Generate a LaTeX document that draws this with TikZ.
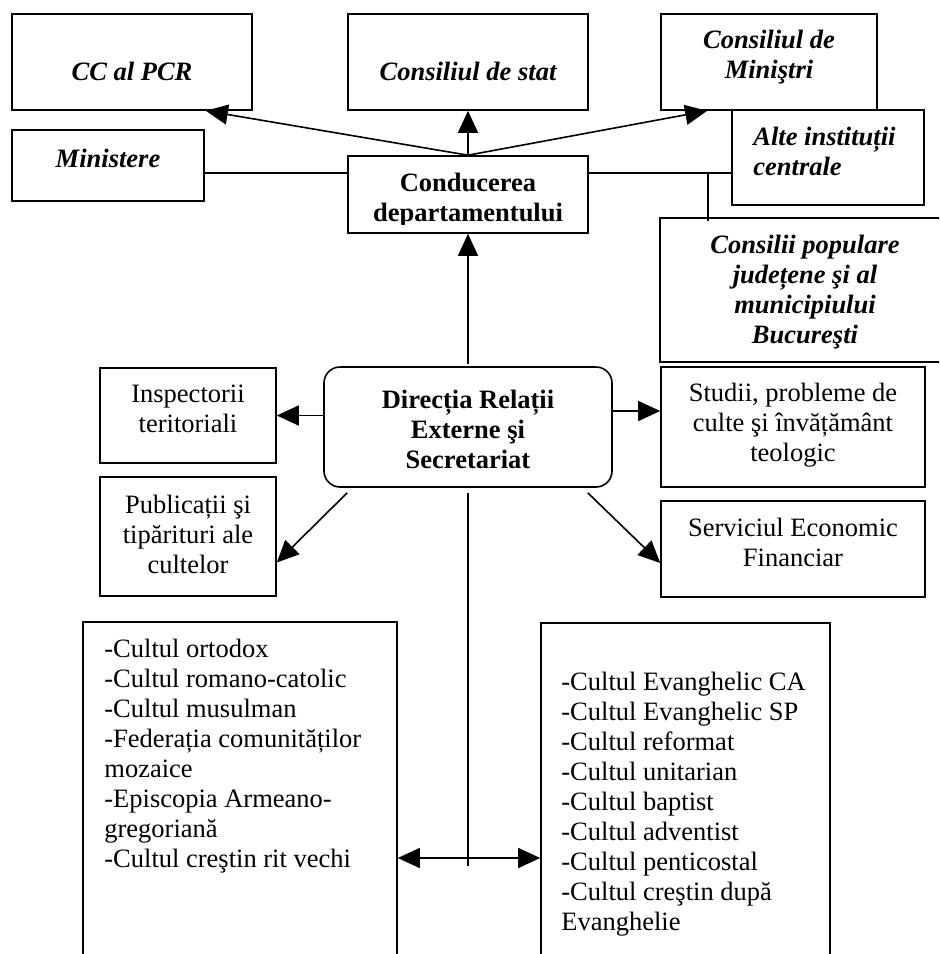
\documentclass[tikz,border=0pt]{standalone}
\usepackage{fontspec}
\setmainfont{Liberation Serif}
\usetikzlibrary{positioning,calc,arrows.meta}

\tikzset{
  box/.style={draw, rectangle, line width=0.8pt, inner sep=0pt},
  rbox/.style={box, rounded corners=8pt},
  txt/.style={anchor=base, align=center, inner sep=0pt, font=\fontsize{13.25}{15}\selectfont},
  htxt/.style={txt, font=\fontsize{13.25}{15}\selectfont\bfseries\itshape},
  btxt/.style={txt, font=\fontsize{13.25}{15}\selectfont\bfseries},
  link/.style={line width=0.8pt},
  arr/.style={link, -{Triangle[length=11pt,width=10pt]}},
  dbl/.style={link, {Triangle[length=11pt,width=10pt]}-{Triangle[length=11pt,width=10pt]}}
}

\begin{document}
\begin{tikzpicture}[x=0.5pt, y=-0.5pt]
  \useasboundingbox (0,0) rectangle (939,954);
  \clip (0,0) rectangle (939,954);

  % upper level
  \node[box, minimum width=120pt, minimum height=48pt] (cc) at (132,62) {};
  \node[box, minimum width=120pt, minimum height=48pt] (stat) at (468,62) {};
  \node[box, minimum width=108pt, minimum height=48pt] (cm) at (769,62) {};
  \node[box, minimum width=96pt, minimum height=35.5pt] (min) at (108,165.5) {};
  \node[box, minimum width=120pt, minimum height=38.5pt] (cond) at (468,194.5) {};
  \node[box, minimum width=96pt, minimum height=47.5pt] (alte) at (828,157.5) {};
  \node[box, minimum width=145pt, minimum height=72pt] (cp) at (805,290) {};

  % (base = last line)
  \node[htxt] (cct) at (132,80) {CC al PCR};
  \node[htxt] (statt) at (468,80) {Consiliul de stat};
  \node[htxt] (cmt) at (769,78) {Consiliul de\\Miniştri};
  \node[htxt] (mint) at (108,167) {Ministere};
  \begin{scope}
    \clip (348,156) rectangle (588,224);
    \node[btxt] (condt) at (468,221) {Conducerea\\departamentului};
  \end{scope}
  \node[htxt, anchor=base west, align=left] (altet) at (753,175) {Alte instituții\\centrale};
  \node[htxt] (cpt) at (805,343) {Consilii populare\\județene şi al\\municipiului\\Bucureşti};

  % middle level
  \node[rbox, minimum width=144pt, minimum height=60pt] (dir) at (468,427) {};
  \node[box, minimum width=88pt, minimum height=47.5pt] (insp) at (188,415.5) {};
  \node[box, minimum width=88pt, minimum height=59.5pt] (pub) at (188,536.5) {};
  \node[box, minimum width=132pt, minimum height=60pt] (stud) at (793,427) {};
  \node[box, minimum width=132pt, minimum height=48pt] (serv) at (793,549) {};

  \node[btxt] (dirt) at (468,468) {Direcția Relații\\Externe şi\\Secretariat};
  \node[txt] (inspt) at (188,432) {Inspectorii\\teritoriali};
  \node[txt] (pubt) at (188,573) {Publicații şi\\tipărituri ale\\cultelor};
  \node[txt] (studt) at (793,461) {Studii, probleme de\\culte şi învățământ\\teologic};
  \node[txt] (servt) at (793,566) {Serviciul Economic\\Financiar};

  % the cults
  \node[box, minimum width=157pt, minimum height=189pt] (orto) at (240,811) {};
  \node[box, minimum width=144.5pt, minimum height=188.5pt] (evang) at (685.5,811.5) {};

  \node[txt, anchor=base west, align=left] (ortot) at (104,867) {-Cultul ortodox\\-Cultul romano-catolic\\-Cultul musulman\\-Federația comunităților\\mozaice\\-Episcopia Armeano-\\gregoriană\\-Cultul creştin rit vechi};
  \node[txt, anchor=base west, align=left] (evangt) at (561,930) {-Cultul Evanghelic CA\\-Cultul Evanghelic SP\\-Cultul reformat\\-Cultul unitarian\\-Cultul baptist\\-Cultul adventist\\-Cultul penticostal\\-Cultul creştin după\\Evanghelie};

  % connections
  \coordinate (junc) at (708,173);
  \coordinate (hub) at (468,858);
  \draw[arr] (cond.north) -- ([xshift=-23.5pt]cc.south east);
  \draw[arr] (cond.north) -- (stat.south);
  \draw[arr] (cond.north) -- ([xshift=23.5pt]cm.south west);
  \draw[link] (min.east |- junc) -- (cond.west |- junc);
  \draw[link] (cond.east |- junc) -- (alte.west |- junc);
  \draw[link] (junc) -- ([yshift=-2pt]cp.north -| junc);
  \draw[arr] ([yshift=1pt]dir.north) -- (cond.south);
  \draw[arr] (dir.west |- insp.east) -- (insp.east);
  \draw[arr] ([yshift=8pt]dir.east) -- ([yshift=8pt]dir.east -| stud.west);
  \draw[arr] ([xshift=12pt,yshift=-2.5pt]dir.south west) -- ([yshift=-13pt]pub.east);
  \draw[arr] ([xshift=-12.5pt,yshift=-2.5pt]dir.south east) -- ([yshift=-7pt]serv.west);
  \draw[link] ([yshift=-2.5pt]dir.south) -- ([yshift=-4pt]hub);
  \draw[dbl] (orto.east |- hub) -- (evang.west |- hub);
\end{tikzpicture}
\end{document}
